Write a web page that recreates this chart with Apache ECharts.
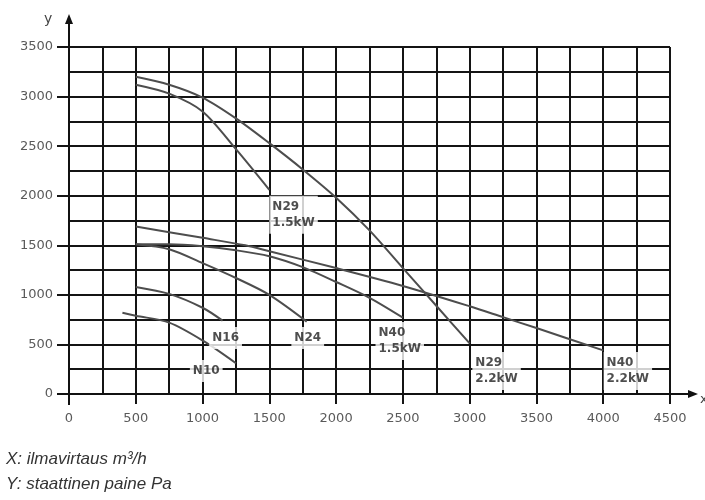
<!DOCTYPE html>
<html>
<head>
<meta charset="utf-8">
<script src="https://cdn.jsdelivr.net/npm/echarts@6/dist/echarts.min.js"></script>
<style>
    html, body { margin: 0; padding: 0; background: #fff; }
    #chart { width: 705px; height: 500px; }
</style>
</head>
<body>
<div id="chart"></div>
<script>
    // käyrät: [ilmavirtaus m3/h, staattinen paine Pa]
    const n10 = [[400, 820], [500, 790], [750, 720], [1000, 540], [1250, 310]];
    const n16 = [[500, 1080], [750, 1010], [1000, 870], [1150, 740]];
    const n24 = [[500, 1510], [750, 1460], [1000, 1320], [1250, 1170], [1500, 1000], [1780, 730]];
    const n40_15 = [[500, 1510], [750, 1510], [1000, 1490], [1250, 1450], [1500, 1390], [1750, 1280], [2000, 1130], [2250, 970], [2500, 770]];
    const n40_22 = [[500, 1690], [1000, 1575], [1320, 1500], [1500, 1440], [2000, 1270], [2500, 1090], [3000, 885], [3250, 775], [3500, 665], [4000, 440]];
    const n29_15 = [[500, 3120], [750, 3030], [1000, 2850], [1250, 2470], [1500, 2060]];
    const n29_22 = [[500, 3200], [750, 3120], [1000, 2990], [1250, 2780], [1500, 2530], [1750, 2265], [2000, 1980], [2250, 1650], [2500, 1270], [2750, 890], [3000, 510]];

    // käyrien nimet ja niiden paikka (vasen yläkulma, data-arvoina)
    const curveLabels = [
        [1500, 2000, 'N29\n1.5kW'],
        [1050, 675, 'N16'],
        [1665, 675, 'N24'],
        [905, 342, 'N10'],
        [2295, 725, 'N40\n1.5kW'],
        [3020, 423, 'N29\n2.2kW'],
        [4003, 423, 'N40\n2.2kW']
    ];

    const xMax = 4500;
    const yMax = 3500;
    const step = 500;

    let chart = echarts.init(document.getElementById('chart'));

    const gridLine = {color: '#141414', width: 2};
    const curveStyle = {color: '#4d4d4d', width: 2};

    function curve(name, data) {
        return {
            name: name,
            type: 'line',
            smooth: 0.3,
            symbol: 'none',
            silent: true,
            lineStyle: curveStyle,
            data: data,
            z: 3
        };
    }

    // ei tuhaterottimia
    function plain(v) {
        return String(v);
    }

    const tickFont = {color: '#5a5a5a', fontSize: 13, fontFamily: 'DejaVu Sans', formatter: plain};

    chart.setOption({
        animation: false,
        backgroundColor: '#fff',
        grid: {left: 69, right: 35, top: 47, bottom: 106, containLabel: false},
        xAxis: {
            type: 'value',
            min: 0,
            max: xMax,
            interval: step,
            axisLine: {show: false},
            axisTick: {show: true, length: 10, lineStyle: gridLine},
            minorTick: {show: false, splitNumber: 2},
            minorSplitLine: {show: true, lineStyle: gridLine},
            splitLine: {show: true, lineStyle: gridLine},
            axisLabel: Object.assign({margin: 18}, tickFont)
        },
        yAxis: {
            type: 'value',
            min: 0,
            max: yMax,
            interval: step,
            axisLine: {show: false},
            axisTick: {show: true, length: 12, lineStyle: gridLine},
            minorTick: {show: false, splitNumber: 2},
            minorSplitLine: {show: true, lineStyle: gridLine},
            splitLine: {show: true, lineStyle: gridLine},
            axisLabel: Object.assign({margin: 16}, tickFont)
        },
        series: [
            curve('N10', n10),
            curve('N16', n16),
            curve('N24', n24),
            curve('N40 1.5kW', n40_15),
            curve('N40 2.2kW', n40_22),
            curve('N29 1.5kW', n29_15),
            curve('N29 2.2kW', n29_22),
            {
                // nimilaput valkoisella pohjalla
                type: 'scatter',
                symbolSize: 0,
                silent: true,
                z: 5,
                data: curveLabels.map(function (l) {
                    return {value: [l[0], l[1]], name: l[2]};
                }),
                label: {
                    show: true,
                    position: [0, 0],
                    formatter: '{b}',
                    backgroundColor: '#fff',
                    padding: [3, 3, 3, 3],
                    color: '#222',
                    fontSize: 12,
                    lineHeight: 16,
                    fontWeight: 'bold',
                    fontFamily: 'DejaVu Sans'
                }
            }
        ]
    });

    // akselit nuolineen + selitteet
    const o = chart.convertToPixel({gridIndex: 0}, [0, 0]);
    const tr = chart.convertToPixel({gridIndex: 0}, [xMax, yMax]);
    const axisStyle = {stroke: '#111', lineWidth: 2};

    chart.setOption({
        graphic: [
            {type: 'line', shape: {x1: o[0], y1: o[1] + 11, x2: o[0], y2: tr[1] - 26}, style: axisStyle, z: 10},
            {type: 'polygon', shape: {points: [[o[0] - 4, tr[1] - 23], [o[0], tr[1] - 33], [o[0] + 4, tr[1] - 23]]}, style: {fill: '#111'}, z: 10},
            {type: 'line', shape: {x1: o[0] - 12, y1: o[1], x2: tr[0] + 20, y2: o[1]}, style: axisStyle, z: 10},
            {type: 'polygon', shape: {points: [[tr[0] + 18, o[1] - 4], [tr[0] + 28, o[1]], [tr[0] + 18, o[1] + 4]]}, style: {fill: '#111'}, z: 10},
            {type: 'text', left: o[0] - 25, top: tr[1] - 35, style: {text: 'y', fill: '#444', font: '14px DejaVu Sans'}},
            {type: 'text', left: tr[0] + 30, top: o[1] - 1, style: {text: 'x', fill: '#444', font: '13px DejaVu Sans'}},
            {type: 'text', left: 6, top: 451, style: {text: 'X: ilmavirtaus m³/h', fill: '#333', font: 'italic 17px Liberation Sans'}},
            {type: 'text', left: 6, top: 476, style: {text: 'Y: staattinen paine Pa', fill: '#333', font: 'italic 17px Liberation Sans'}}
        ]
    });
</script>
</body>
</html>
